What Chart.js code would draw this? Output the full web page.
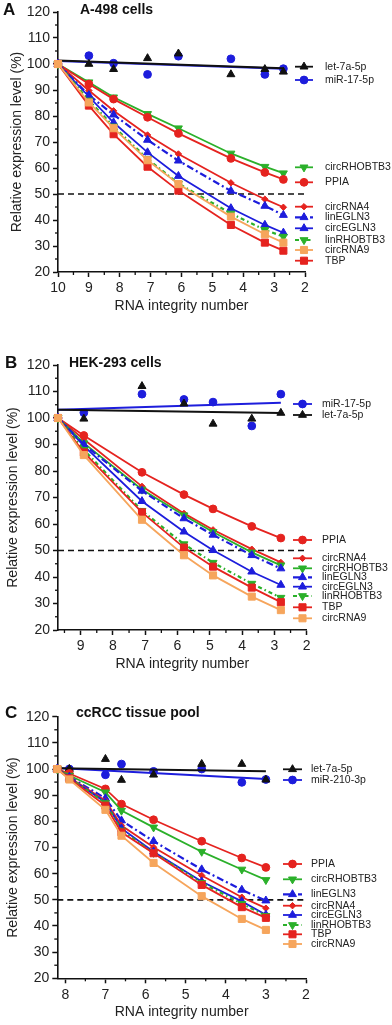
<!DOCTYPE html>
<html>
<head>
<meta charset="utf-8">
<script src="https://cdn.jsdelivr.net/npm/chart.js@4.4.0/dist/chart.umd.min.js"></script>
<style>
  html, body { margin: 0; padding: 0; background: #fff; }
  #wrap { position: relative; width: 392px; height: 1025px; }
  .panel { position: absolute; left: 0; width: 392px; }
</style>
</head>
<body>
<div id="wrap">
  <div class="panel" style="top:0px"><canvas id="chartA" width="392" height="325"></canvas></div>
  <div class="panel" style="top:330px"><canvas id="chartB" width="392" height="345"></canvas></div>
  <div class="panel" style="top:675px"><canvas id="chartC" width="392" height="350"></canvas></div>
</div>
<script>
// ---- data ----
const yTicks = [20, 30, 40, 50, 60, 70, 80, 90, 100, 110, 120];
const halfLine = 50;

// A: A-498 cells
const xTicksA = [10, 9, 8, 7, 6, 5, 4, 3, 2];
const rinA = [10, 9.0, 8.2, 7.1, 6.1, 4.4, 3.3, 2.7];
const let7A = [100, 100, 98, 102.2, 104, 96, 98, 97];
const mir17A = [100, 103.2, 100.3, 96, 103, 102, 96, 98.2];
const fitRinA = [10, 2.7];
const let7FitA = [101.3, 98.4];
const mir17FitA = [101.2, 98.2];
const circRHOBTB3A = [100, 93, 87.2, 80.8, 75.3, 65.6, 60.5, 58];
const ppiaA = [100, 92.3, 86.5, 79.5, 73.3, 63.7, 58.3, 55.6];
const circRNA4A = [100, 89.8, 82, 72.7, 65.4, 54.3, 48, 44.9];
const linEGLN3A = [100, 88, 80.5, 70.8, 62.8, 51.2, 45.4, 41.9];
const circEGLN3A = [100, 87.5, 77.5, 66, 56.9, 44.5, 38.1, 35.1];
const linRHOBTB3A = [100, 86, 76, 63.5, 54, 42.5, 36.2, 33.6];
const circRNA9A = [100, 85.2, 75.3, 63, 53.8, 41.3, 34.5, 31.3];
const tbpA = [100, 84, 73, 60.5, 51.3, 38.1, 31.3, 28.2];

// B: HEK-293 cells
const xTicksB = [9, 8, 7, 6, 5, 4, 3, 2];
const rinB = [9.7, 8.9, 7.1, 5.8, 4.9, 3.7, 2.8];
const let7B = [100, 99.7, 112, 105.4, 97.8, 99.7, 101.9];
const mir17B = [100, 102, 109, 107, 106, 97, 109];
const fitRinB = [9.7, 2.8];
const let7FitB = [103.1, 101.9];
const mir17FitB = [103.1, 105.8];
const ppiaB = [100, 93.4, 79.5, 71.1, 65.7, 59.1, 54.7];
const circRNA4B = [100, 92, 74.2, 64, 57.8, 50.5, 45.5];
const circRHOBTB3B = [100, 90.5, 73, 63.3, 57, 49.3, 44.4];
const linEGLN3B = [100, 90, 72.5, 62.1, 55.9, 48.2, 43.2];
const circEGLN3B = [100, 89.5, 68.6, 57.1, 50.1, 42, 37];
const linRHOBTB3B = [100, 88, 65, 52.4, 45.4, 37.5, 32.2];
const tbpB = [100, 87, 64.4, 51.1, 43.9, 36, 30.5];
const circRNA9B = [100, 86, 61.6, 48.2, 40.6, 32.6, 27.5];

// C: ccRCC tissue pool
const xTicksC = [8, 7, 6, 5, 4, 3, 2];
const rinC = [8.2, 7.9, 7.0, 6.6, 5.8, 4.6, 3.6, 3.0];
const let7C = [100, 100, 103.8, 95.8, 97.8, 101.9, 101.9, 95.9];
const mir210C = [100, 100, 97.8, 101.9, 99.1, 100, 94.9, 96];
const fitRinC = [8.2, 3.0];
const let7FitC = [100.3, 99.1];
const mir210FitC = [100.4, 96.2];
const ppiaC = [100, 98.3, 92.4, 86.6, 80.6, 72.4, 66, 62.4];
const circRHOBTB3C = [100, 97.5, 91.1, 84.1, 77.7, 68.4, 61.6, 57.6];
const linEGLN3C = [100, 97, 88.8, 80.3, 72.4, 61.6, 53.8, 49.7];
const circRNA4C = [100, 96.8, 87.9, 78.4, 70.1, 59.3, 51, 46.8];
const circEGLN3C = [100, 96.6, 87.3, 77.3, 68.4, 57, 49.4, 44.3];
const linRHOBTB3C = [100, 96.6, 87, 76.5, 68, 56.5, 48.5, 43.9];
const tbpC = [100, 96.4, 86, 75.8, 67.8, 55.7, 47.2, 43.1];
const circRNA9C = [100, 96, 84.4, 74.5, 64.1, 51.4, 42.7, 38.5];

// ---- styles ----
const RED = '#e5231f', GREEN = '#2bb02a', BLUE = '#1d1ddc', ORANGE = '#f6a55c', BLACK = '#111111';
const FONT = "'Liberation Sans', Arial, sans-serif";
const style = {
  'circRHOBTB3': { color: GREEN, point: 'triangle', rot: 180, r: 4.6 },
  'PPIA':        { color: RED, point: 'circle', r: 3.9 },
  'circRNA4':    { color: RED, point: 'rectRot', r: 3.2 },
  'linEGLN3':    { color: BLUE, point: 'triangle', r: 4.6, dash: [7, 3, 2, 3], w: 2.2 },
  'circEGLN3':   { color: BLUE, point: 'triangle', r: 4.6 },
  'linRHOBTB3':  { color: GREEN, point: 'triangle', rot: 180, r: 4.6, dash: [4, 3, 1.5, 3], w: 2.2 },
  'circRNA9':    { color: ORANGE, point: 'rect', r: 5 },
  'TBP':         { color: RED, point: 'rect', r: 5 },
  'let-7a-5p':   { color: BLACK, point: 'triangle', r: 4.6 },
  'miR-17-5p':   { color: BLUE, point: 'circle', r: 3.9 },
  'miR-210-3p':  { color: BLUE, point: 'circle', r: 3.9 }
};

function pts(xs, ys) { return xs.map((x, i) => ({ x: x, y: ys[i] })); }

function geneSet(name, xs, ys) {
  const s = style[name];
  return {
    label: name, data: pts(xs, ys), showLine: true,
    borderColor: s.color, backgroundColor: s.color,
    borderWidth: s.w || 1.8, borderDash: s.dash || [],
    pointStyle: s.point, pointRotation: s.rot || 0, pointRadius: s.r,
    pointBorderWidth: 1, tension: 0, clip: false
  };
}
function controlSet(name, xs, ys) {
  const s = style[name];
  return {
    label: name, data: pts(xs, ys), showLine: false,
    borderColor: s.color, backgroundColor: s.color,
    pointStyle: s.point, pointRadius: s.r, pointBorderWidth: 1, clip: false
  };
}
function fitSet(name, xs, ys) {
  return {
    label: name + ' fit', data: pts(xs, ys), showLine: true,
    borderColor: style[name].color, borderWidth: 2, pointRadius: 0, clip: false
  };
}

// letters, titles, legends and minor ticks
const decoPlugin = {
  id: 'deco',
  afterDraw(chart, args, o) {
    const ctx = chart.ctx, xs = chart.scales.x, ys = chart.scales.y, ca = chart.chartArea;
    ctx.save();
    // minor ticks
    ctx.strokeStyle = BLACK; ctx.lineWidth = 1.3;
    for (let v = 2.5; v < xs.max; v += 1) {
      const px = xs.getPixelForValue(v);
      ctx.beginPath(); ctx.moveTo(px, ca.bottom); ctx.lineTo(px, ca.bottom + 3); ctx.stroke();
    }
    for (let v = 25; v < 120; v += 10) {
      const py = ys.getPixelForValue(v);
      ctx.beginPath(); ctx.moveTo(ca.left, py); ctx.lineTo(ca.left - 3, py); ctx.stroke();
    }
    // panel letter and title
    ctx.fillStyle = BLACK; ctx.textBaseline = 'middle'; ctx.textAlign = 'left';
    ctx.font = 'bold 17px ' + FONT;
    ctx.fillText(o.letter, o.letterX, o.titleY);
    ctx.font = 'bold 14px ' + FONT;
    ctx.fillText(o.title, o.titleX, o.titleY);
    // legend
    ctx.font = '10.5px ' + FONT;
    o.legend.forEach(([name, y]) => {
      const s = style[name];
      ctx.strokeStyle = s.color; ctx.fillStyle = s.color;
      ctx.lineWidth = s.w || 1.8;
      ctx.setLineDash(s.dash || []);
      ctx.beginPath(); ctx.moveTo(o.x1, y); ctx.lineTo(o.x2, y); ctx.stroke();
      ctx.setLineDash([]);
      ctx.lineWidth = 1;
      Chart.helpers.drawPoint(ctx, { pointStyle: s.point, radius: s.r, rotation: s.rot || 0, borderWidth: 1 },
        (o.x1 + o.x2) / 2, y);
      ctx.fillStyle = '#222';
      ctx.fillText(name, o.textX, y);
    });
    ctx.restore();
  }
};

function makeChart(id, p) {
  const datasets = [];
  p.genes.forEach(([name, ys]) => datasets.push(geneSet(name, p.rin, ys)));
  p.controls.forEach(([name, ys, fit]) => {
    datasets.push(controlSet(name, p.rin, ys));
    datasets.push(fitSet(name, p.fitRin, fit));
  });
  datasets.push({
    label: '50%', data: pts([p.xMax, 2], [halfLine, halfLine]), showLine: true,
    borderColor: BLACK, borderWidth: 1.7, borderDash: [6, 4], pointRadius: 0, clip: false
  });

  const tickFont = { family: FONT, size: 14 };
  new Chart(document.getElementById(id), {
    type: 'scatter',
    data: { datasets },
    options: {
      responsive: false, animation: false,
      layout: { padding: { left: 0, right: 392 - p.right, top: p.top, bottom: p.bottomPad } },
      plugins: { legend: { display: false }, tooltip: { enabled: false }, deco: p.deco },
      scales: {
        x: {
          type: 'linear', reverse: true, min: 2, max: p.xMax,
          afterBuildTicks: s => { s.ticks = p.xTicks.map(v => ({ value: v })); },
          afterFit: s => { s.height = p.xAxisH; },
          ticks: { font: tickFont, color: '#222', padding: 3, maxRotation: 0, autoSkip: false },
          grid: { drawOnChartArea: false, tickLength: 5, tickColor: BLACK, tickWidth: 1.5 },
          border: { color: BLACK, width: 1.6 },
          title: { display: true, text: 'RNA integrity number', font: tickFont, color: '#222', padding: 0 }
        },
        y: {
          type: 'linear', min: 20, max: 120,
          afterBuildTicks: s => { s.ticks = yTicks.map(v => ({ value: v })); },
          afterFit: s => { s.width = p.left; },
          ticks: { font: tickFont, color: '#222', padding: 3 },
          grid: { drawOnChartArea: false, tickLength: 5, tickColor: BLACK, tickWidth: 1.5 },
          border: { color: BLACK, width: 1.6 },
          title: { display: true, text: 'Relative expression level (%)', font: tickFont, color: '#222',
                   padding: { top: p.yTitlePad, bottom: 0 } }
        }
      }
    },
    plugins: [decoPlugin]
  });
}

makeChart('chartA', {
  xMax: 10, xTicks: xTicksA, rin: rinA, fitRin: fitRinA,
  left: 58, right: 305, top: 12, bottomPad: 10, xAxisH: 43, yTitlePad: 8.6,
  genes: [['circRNA9', circRNA9A], ['TBP', tbpA], ['linRHOBTB3', linRHOBTB3A], ['circEGLN3', circEGLN3A],
          ['linEGLN3', linEGLN3A], ['circRNA4', circRNA4A], ['PPIA', ppiaA], ['circRHOBTB3', circRHOBTB3A]],
  controls: [['let-7a-5p', let7A, let7FitA], ['miR-17-5p', mir17A, mir17FitA]],
  deco: {
    letter: 'A', letterX: 3, title: 'A-498 cells', titleX: 80, titleY: 10,
    x1: 295, x2: 313, textX: 325,
    legend: [['let-7a-5p', 66.7], ['miR-17-5p', 80], ['circRHOBTB3', 167.3], ['PPIA', 182.3],
             ['circRNA4', 206.7], ['linEGLN3', 217.3], ['circEGLN3', 228.3], ['linRHOBTB3', 240],
             ['circRNA9', 250], ['TBP', 260.7]]
  }
});

makeChart('chartB', {
  xMax: 9.7, xTicks: xTicksB, rin: rinB, fitRin: fitRinB,
  left: 58, right: 306.7, top: 35, bottomPad: 2, xAxisH: 43, yTitlePad: 4.6,
  genes: [['circRNA9', circRNA9B], ['TBP', tbpB], ['linRHOBTB3', linRHOBTB3B], ['circEGLN3', circEGLN3B],
          ['linEGLN3', linEGLN3B], ['circRHOBTB3', circRHOBTB3B], ['circRNA4', circRNA4B], ['PPIA', ppiaB]],
  controls: [['let-7a-5p', let7B, let7FitB], ['miR-17-5p', mir17B, mir17FitB]],
  deco: {
    letter: 'B', letterX: 5, title: 'HEK-293 cells', titleX: 69, titleY: 33.3,
    x1: 293, x2: 312, textX: 322,
    legend: [['miR-17-5p', 74], ['let-7a-5p', 85], ['PPIA', 210], ['circRNA4', 228.3],
             ['circRHOBTB3', 238.3], ['linEGLN3', 247.3], ['circEGLN3', 256.7], ['linRHOBTB3', 266],
             ['TBP', 277.3], ['circRNA9', 288.3]]
  }
});

makeChart('chartC', {
  xMax: 8.2, xTicks: xTicksC, rin: rinC, fitRin: fitRinC,
  left: 57.3, right: 306, top: 41.7, bottomPad: 4.7, xAxisH: 42, yTitlePad: 4.6,
  genes: [['circRNA9', circRNA9C], ['TBP', tbpC], ['linRHOBTB3', linRHOBTB3C], ['circEGLN3', circEGLN3C],
          ['circRNA4', circRNA4C], ['linEGLN3', linEGLN3C], ['circRHOBTB3', circRHOBTB3C], ['PPIA', ppiaC]],
  controls: [['let-7a-5p', let7C, let7FitC], ['miR-210-3p', mir210C, mir210FitC]],
  deco: {
    letter: 'C', letterX: 5, title: 'ccRCC tissue pool', titleX: 76, titleY: 38.3,
    x1: 283, x2: 302, textX: 311,
    legend: [['let-7a-5p', 94.3], ['miR-210-3p', 105], ['PPIA', 189], ['circRHOBTB3', 204.3],
             ['linEGLN3', 219.3], ['circRNA4', 230.7], ['circEGLN3', 240], ['linRHOBTB3', 250],
             ['TBP', 259.3], ['circRNA9', 269]]
  }
});
</script>
</body>
</html>
